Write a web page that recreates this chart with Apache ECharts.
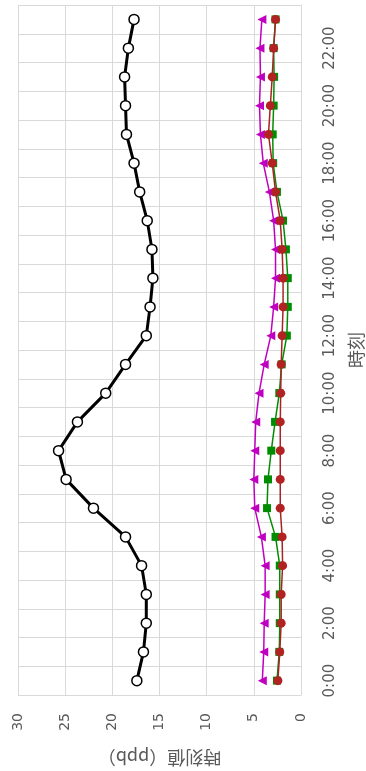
<!DOCTYPE html>
<html>
<head>
<meta charset="utf-8">
<script src="https://cdn.jsdelivr.net/npm/echarts@6/dist/echarts.min.js"></script>
<style>
html,body{margin:0;padding:0;background:#fff;}
#chart{width:366px;height:771px;}
</style>
</head>
<body>
<div id="chart"></div>
<script>
const hours = ["0:00","1:00","2:00","3:00","4:00","5:00","6:00","7:00","8:00","9:00","10:00","11:00",
  "12:00","13:00","14:00","15:00","16:00","17:00","18:00","19:00","20:00","21:00","22:00","23:00"];
const seriesBlack = [17.4,16.7,16.4,16.4,16.9,18.6,22.0,24.9,25.7,23.7,20.7,18.6,
  16.4,16.0,15.7,15.8,16.3,17.1,17.7,18.5,18.6,18.7,18.3,17.7];
const seriesMagenta = [4.1,3.95,3.9,3.8,3.8,4.2,4.9,5.0,4.9,4.8,4.45,3.9,
  3.2,2.9,2.7,2.7,2.9,3.35,4.0,4.3,4.4,4.3,4.35,4.15];
const seriesGreen = [2.55,2.3,2.25,2.25,2.25,2.7,3.6,3.5,3.15,2.75,2.3,2.05,
  1.5,1.4,1.4,1.6,1.9,2.55,2.95,3.0,2.9,2.85,2.9,2.7];
const seriesRed = [2.45,2.25,2.1,2.1,1.95,2.0,2.2,2.2,2.2,2.2,2.15,2.1,
  2.0,1.9,1.9,2.0,2.2,2.7,3.05,3.45,3.25,3.05,2.9,2.7];
const valueTicks = [0,5,10,15,20,25,30];
const valueTitle = "時刻値（ppb）";
const categoryTitle = "時刻";

const chart = echarts.init(document.getElementById('chart'));
const gray = '#595959';
const gridColor = '#D9D9D9';
chart.setOption({
  animation: false,
  backgroundColor: '#fff',
  grid: {left: 18, right: 65, top: 5, bottom: 76, containLabel: false, outerBoundsMode: 'none'},
  xAxis: {
    type: 'value',
    min: valueTicks[0], max: valueTicks[valueTicks.length-1], interval: 5,
    inverse: true,
    position: 'bottom',
    name: valueTitle,
    nameLocation: 'middle',
    nameRotate: 180,
    nameGap: 54,
    nameTextStyle: {color: gray, fontSize: 18, fontFamily: 'Noto Sans CJK JP'},
    axisLine: {show: false},
    axisTick: {show: false},
    axisLabel: {rotate: 90, margin: 18, color: gray, fontSize: 14, fontFamily: 'DejaVu Sans'},
    splitLine: {show: true, lineStyle: {color: gridColor, width: 1}}
  },
  yAxis: {
    type: 'category',
    data: hours,
    position: 'right',
    boundaryGap: true,
    name: categoryTitle,
    nameLocation: 'middle',
    nameRotate: 90,
    nameGap: 46,
    nameTextStyle: {color: gray, fontSize: 18, fontFamily: 'Noto Sans CJK JP'},
    axisLine: {show: true, onZero: false, lineStyle: {color: gridColor, width: 1}},
    axisTick: {show: false, interval: 0},
    axisLabel: {interval: 1, rotate: 90, margin: 22, color: gray, fontSize: 15, fontFamily: 'DejaVu Sans'},
    splitLine: {show: true, interval: 0, lineStyle: {color: gridColor, width: 1}}
  },
  series: [
    {type: 'line', data: seriesBlack, symbol: 'circle', symbolSize: 10,
     lineStyle: {color: '#000', width: 3},
     itemStyle: {color: '#fff', borderColor: '#000', borderWidth: 1.5}, z: 2},
    {type: 'line', data: seriesMagenta, symbol: 'triangle', symbolSize: 9, symbolRotate: 90,
     lineStyle: {color: '#C000C0', width: 1.5},
     itemStyle: {color: '#C000C0', borderWidth: 0}, z: 3},
    {type: 'line', data: seriesGreen, symbol: 'rect', symbolSize: 8,
     lineStyle: {color: '#008C00', width: 1.5},
     itemStyle: {color: '#008C00', borderWidth: 0}, z: 4},
    {type: 'line', data: seriesRed, symbol: 'circle', symbolSize: 9,
     lineStyle: {color: '#A82424', width: 1.5},
     itemStyle: {color: '#B22222', borderWidth: 0}, z: 5}
  ]
});
</script>
</body>
</html>
